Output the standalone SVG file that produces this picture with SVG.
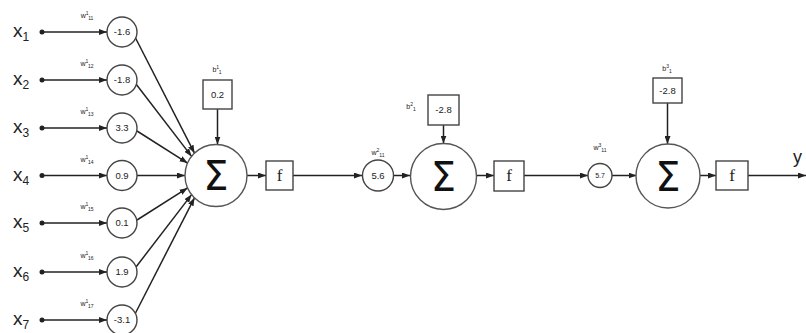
<svg xmlns="http://www.w3.org/2000/svg" width="806" height="333" viewBox="0 0 806 333">
<defs>
<marker id="ah" markerWidth="8" markerHeight="6" refX="8" refY="3" orient="auto" markerUnits="userSpaceOnUse">
<path d="M0,0 L8,3 L0,6 Z" fill="#222"/>
</marker>
<style>
.ln{stroke:#222;stroke-width:1.5;fill:none}
.ar{marker-end:url(#ah)}
.wc{fill:#fff;stroke:#444;stroke-width:1.4}
.bx{fill:#fff;stroke:#444;stroke-width:1.4}
.sum{fill:#fff;stroke:#555;stroke-width:1.4}
.dot{fill:#222}
.xl{font-family:"Liberation Sans",Arial,sans-serif;font-size:19px;fill:#222}
.xs{font-size:12px}
.wv{font-family:"Liberation Sans",Arial,sans-serif;font-size:9.5px;fill:#222;text-anchor:middle}
.wl{font-family:"Liberation Sans",Arial,sans-serif;font-size:7px;fill:#222;text-anchor:middle}
.sm{font-size:5px}
.sg{font-family:"DejaVu Sans",sans-serif;font-size:40px;fill:#111;text-anchor:middle}
.f{font-family:"Liberation Serif",serif;font-size:17px;fill:#222;text-anchor:middle}
.y{font-family:"Liberation Sans",Arial,sans-serif;font-size:18px;fill:#222}
</style>
</defs>

<g id="connectors">
<line class="ln ar" x1="42" y1="32" x2="107" y2="32"/>
<line class="ln ar" x1="42" y1="80" x2="107" y2="80"/>
<line class="ln ar" x1="42" y1="128" x2="107" y2="128"/>
<line class="ln ar" x1="42" y1="175.5" x2="107" y2="175.5"/>
<line class="ln ar" x1="42" y1="223" x2="107" y2="223"/>
<line class="ln ar" x1="42" y1="272" x2="107" y2="272"/>
<line class="ln ar" x1="42" y1="320" x2="107" y2="320"/>
<line class="ln ar" x1="135" y1="37" x2="194.5" y2="153.2"/>
<line class="ln ar" x1="136" y1="84" x2="191.6" y2="156.4"/>
<line class="ln ar" x1="137" y1="131" x2="187.6" y2="163.1"/>
<line class="ln ar" x1="137" y1="175.5" x2="185" y2="175.5"/>
<line class="ln ar" x1="137" y1="220" x2="187.6" y2="187.9"/>
<line class="ln ar" x1="136" y1="267" x2="191.6" y2="194.6"/>
<line class="ln ar" x1="135" y1="314" x2="194.5" y2="197.8"/>
<line class="ln ar" x1="217.5" y1="109" x2="217.5" y2="144.5"/>
<line class="ln ar" x1="247" y1="175.5" x2="266" y2="175.5"/>
<line class="ln ar" x1="293" y1="175.5" x2="362" y2="175.5"/>
<line class="ln ar" x1="393.5" y1="175.5" x2="410" y2="175.5"/>
<line class="ln ar" x1="443.5" y1="125" x2="443.5" y2="143.5"/>
<line class="ln ar" x1="476.5" y1="175.5" x2="494" y2="175.5"/>
<line class="ln ar" x1="524" y1="175.5" x2="588" y2="175.5"/>
<line class="ln ar" x1="612" y1="175.5" x2="636.5" y2="175.5"/>
<line class="ln ar" x1="667.5" y1="103" x2="667.5" y2="144"/>
<line class="ln ar" x1="699.5" y1="175.5" x2="716" y2="175.5"/>
<line class="ln ar" x1="748" y1="175.5" x2="806" y2="175.5"/>
</g>

<g id="inputs">
<circle class="dot" cx="42" cy="32" r="2.5"/>
<circle class="dot" cx="42" cy="80" r="2.5"/>
<circle class="dot" cx="42" cy="128" r="2.5"/>
<circle class="dot" cx="42" cy="175.5" r="2.5"/>
<circle class="dot" cx="42" cy="223" r="2.5"/>
<circle class="dot" cx="42" cy="272" r="2.5"/>
<circle class="dot" cx="42" cy="320" r="2.5"/>
<text class="xl" x="13" y="37">x<tspan class="xs" dy="4">1</tspan></text>
<text class="xl" x="13" y="85">x<tspan class="xs" dy="4">2</tspan></text>
<text class="xl" x="13" y="133">x<tspan class="xs" dy="4">3</tspan></text>
<text class="xl" x="13" y="180.5">x<tspan class="xs" dy="4">4</tspan></text>
<text class="xl" x="13" y="228">x<tspan class="xs" dy="4">5</tspan></text>
<text class="xl" x="13" y="277">x<tspan class="xs" dy="4">6</tspan></text>
<text class="xl" x="13" y="325">x<tspan class="xs" dy="4">7</tspan></text>
</g>

<g id="w11"><circle class="wc" cx="122" cy="32" r="15"/><text class="wv" x="122" y="35">-1.6</text><text class="wl" x="87" y="18">w<tspan class="sm" dy="-3">1</tspan><tspan class="sm" dy="5">11</tspan></text></g>
<g id="w12"><circle class="wc" cx="122" cy="80" r="15"/><text class="wv" x="122" y="83">-1.8</text><text class="wl" x="87" y="66">w<tspan class="sm" dy="-3">1</tspan><tspan class="sm" dy="5">12</tspan></text></g>
<g id="w13"><circle class="wc" cx="122" cy="128" r="15"/><text class="wv" x="122" y="131">3.3</text><text class="wl" x="87" y="114">w<tspan class="sm" dy="-3">1</tspan><tspan class="sm" dy="5">13</tspan></text></g>
<g id="w14"><circle class="wc" cx="122" cy="175.5" r="15"/><text class="wv" x="122" y="178.5">0.9</text><text class="wl" x="87" y="161.5">w<tspan class="sm" dy="-3">1</tspan><tspan class="sm" dy="5">14</tspan></text></g>
<g id="w15"><circle class="wc" cx="122" cy="223" r="15"/><text class="wv" x="122" y="226">0.1</text><text class="wl" x="87" y="209">w<tspan class="sm" dy="-3">1</tspan><tspan class="sm" dy="5">15</tspan></text></g>
<g id="w16"><circle class="wc" cx="122" cy="272" r="15"/><text class="wv" x="122" y="275">1.9</text><text class="wl" x="87" y="258">w<tspan class="sm" dy="-3">1</tspan><tspan class="sm" dy="5">16</tspan></text></g>
<g id="w17"><circle class="wc" cx="122" cy="320" r="15"/><text class="wv" x="122" y="323">-3.1</text><text class="wl" x="87" y="306">w<tspan class="sm" dy="-3">1</tspan><tspan class="sm" dy="5">17</tspan></text></g>

<g id="b1"><rect class="bx" x="203" y="80" width="29" height="29"/><text class="wv" x="217.5" y="98">0.2</text><text class="wl" x="217" y="72">b<tspan class="sm" dy="-3">1</tspan><tspan class="sm" dy="5">1</tspan></text></g>
<g id="sum1"><circle class="sum" cx="216" cy="175.5" r="31"/><text class="sg" x="216" y="190">Σ</text></g>
<g id="f1"><rect class="bx" x="266" y="161" width="27" height="29"/><text class="f" x="279.5" y="181">f</text></g>

<g id="w211"><circle class="wc" cx="378" cy="175.5" r="15.5"/><text class="wv" x="378" y="178.5">5.6</text><text class="wl" x="378" y="155">w<tspan class="sm" dy="-3">2</tspan><tspan class="sm" dy="5">11</tspan></text></g>
<g id="b2"><rect class="bx" x="428" y="95" width="31" height="30"/><text class="wv" x="443.5" y="113">-2.8</text><text class="wl" x="411" y="109">b<tspan class="sm" dy="-3">2</tspan><tspan class="sm" dy="5">1</tspan></text></g>
<g id="sum2"><circle class="sum" cx="443.5" cy="176.5" r="33"/><text class="sg" x="443.5" y="191">Σ</text></g>
<g id="f2"><rect class="bx" x="494" y="161" width="30" height="30"/><text class="f" x="509" y="181">f</text></g>

<g id="w311"><circle class="wc" cx="600" cy="175.5" r="12"/><text class="wv" x="600" y="178" style="font-size:7px">5.7</text><text class="wl" x="600" y="150">w<tspan class="sm" dy="-3">3</tspan><tspan class="sm" dy="5">11</tspan></text></g>
<g id="b3"><rect class="bx" x="653" y="78" width="29" height="25"/><text class="wv" x="667.5" y="94">-2.8</text><text class="wl" x="667" y="71">b<tspan class="sm" dy="-3">3</tspan><tspan class="sm" dy="5">1</tspan></text></g>
<g id="sum3"><circle class="sum" cx="668" cy="176" r="32"/><text class="sg" x="668" y="190.5">Σ</text></g>
<g id="f3"><rect class="bx" x="716" y="161" width="32" height="29"/><text class="f" x="732" y="181">f</text></g>

<g id="output"><text class="y" x="793" y="163">y</text></g>
</svg>
